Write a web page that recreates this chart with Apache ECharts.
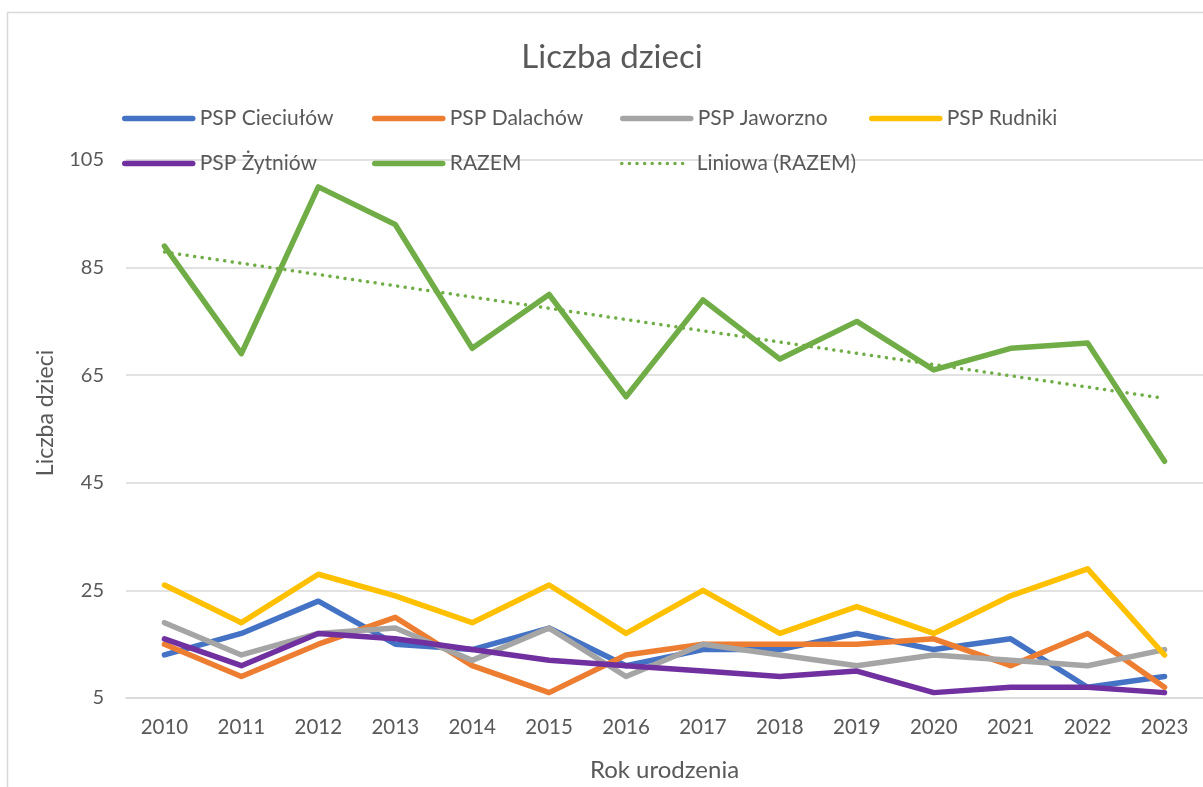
<!DOCTYPE html>
<html>
<head>
<meta charset="utf-8">
<script src="https://cdn.jsdelivr.net/npm/echarts@6/dist/echarts.min.js"></script>
<style>
  html, body { margin: 0; padding: 0; background: #ffffff; }
  #chart { width: 1203px; height: 787px; }
</style>
</head>
<body>
<div id="chart"></div>
<script>
// ---- data ----
const years = ['2010','2011','2012','2013','2014','2015','2016','2017','2018','2019','2020','2021','2022','2023'];
const cieciulow = [13, 17, 23, 15, 14, 18, 11, 14, 14, 17, 14, 16, 7, 9];
const dalachow  = [15, 9, 15, 20, 11, 6, 13, 15, 15, 15, 16, 11, 17, 7];
const jaworzno  = [19, 13, 17, 18, 12, 18, 9, 15, 13, 11, 13, 12, 11, 14];
const rudniki   = [26, 19, 28, 24, 19, 26, 17, 25, 17, 22, 17, 24, 29, 13];
const zytniow   = [16, 11, 17, 16, 14, 12, 11, 10, 9, 10, 6, 7, 7, 6];
const razem     = [89, 69, 100, 93, 70, 80, 61, 79, 68, 75, 66, 70, 71, 49];
// linear trend line (Excel "Liniowa"), endpoints
const trendStart = 87.9;
const trendEnd = 60.7;
const yTicks = [5, 25, 45, 65, 85, 105];

const names = ['PSP Cieciułów','PSP Dalachów','PSP Jaworzno','PSP Rudniki','PSP Żytniów','RAZEM','Liniowa (RAZEM)'];
const colors = ['#4472C4','#ED7D31','#A5A5A5','#FFC000','#7030A0','#70AD47','#70AD47'];
const seriesData = [cieciulow, dalachow, jaworzno, rudniki, zytniow, razem];

const trendData = years.map((_, i) => i === 0 ? trendStart : (i === years.length - 1 ? trendEnd : null));

const FONT = 'Lato';
const TXT = '#595959';
const LW = 5.5;

const series = seriesData.map((d, i) => ({
  name: names[i],
  type: 'line',
  data: d,
  symbol: 'none',
  smooth: false,
  lineStyle: { color: colors[i], width: LW, cap: 'round', join: 'round' },
  itemStyle: { color: colors[i] },
  emphasis: { disabled: true },
  z: 2 + i
}));
series.push({
  name: names[6],
  type: 'line',
  data: trendData,
  connectNulls: true,
  symbol: 'none',
  lineStyle: { color: colors[6], width: 3.5, type: [0.1, 7.5], cap: 'round' },
  itemStyle: { color: colors[6] },
  emphasis: { disabled: true },
  z: 10
});

// legend positions (columns/rows like the reference)
const legendCols = [122, 372, 620, 869];
const legendRows = [118, 163];
const legendPos = [
  [0,0],[1,0],[2,0],[3,0],
  [0,1],[1,1],[2,1]
];
const legends = names.map((n, i) => ({
  data: [n],
  left: legendCols[legendPos[i][0]],
  top: legendRows[legendPos[i][1]] - 10,
  padding: 0,
  itemWidth: 68,
  itemHeight: 20,
  itemGap: 9,
  selectedMode: false,
  itemStyle: { opacity: 0, borderWidth: 0 },
  textStyle: { color: TXT, fontFamily: FONT, fontSize: 21, lineHeight: 20, padding: [0,0,0,2] },
  lineStyle: i === 6
    ? { width: 3.5, type: [0.1, 7.5], cap: 'round', color: colors[i] }
    : { width: LW, cap: 'round', color: colors[i] }
}));

const chart = echarts.init(document.getElementById('chart'), null, { renderer: 'canvas' });
chart.setOption({
  animation: false,
  backgroundColor: '#ffffff',
  legend: legends,
  grid: { left: 126, right: -2, top: 160, bottom: 89, containLabel: false },
  xAxis: {
    type: 'category',
    data: years,
    boundaryGap: true,
    axisLine: { show: true, lineStyle: { color: '#d9d9d9', width: 1.5 } },
    axisTick: { show: false },
    axisLabel: { color: TXT, fontFamily: FONT, fontSize: 20.5, margin: 19 },
    name: 'Rok urodzenia',
    nameLocation: 'middle',
    nameGap: 60,
    nameTextStyle: { color: TXT, fontFamily: FONT, fontSize: 24 }
  },
  yAxis: {
    type: 'value',
    min: yTicks[0],
    max: yTicks[yTicks.length - 1],
    interval: yTicks[1] - yTicks[0],
    axisLine: { show: false },
    axisTick: { show: false },
    splitLine: { show: true, lineStyle: { color: '#d9d9d9', width: 1.5 } },
    axisLabel: { color: TXT, fontFamily: FONT, fontSize: 20, margin: 22 }
  },
  series: series,
  graphic: [
    {
      type: 'rect',
      shape: { x: 7.5, y: 12.5, width: 1250, height: 850 },
      style: { fill: 'none', stroke: '#d9d9d9', lineWidth: 1.5 },
      silent: true, z: -10
    },
    {
      type: 'text',
      x: 612, y: 57,
      style: { text: 'Liczba dzieci', fill: TXT, font: '33px ' + FONT, textAlign: 'center', textVerticalAlign: 'middle' },
      silent: true
    },
    {
      type: 'text',
      x: 46, y: 413,
      rotation: Math.PI / 2,
      style: { text: 'Liczba dzieci', fill: TXT, font: '23px ' + FONT, textAlign: 'center', textVerticalAlign: 'middle' },
      silent: true
    }
  ]
});
</script>
</body>
</html>
